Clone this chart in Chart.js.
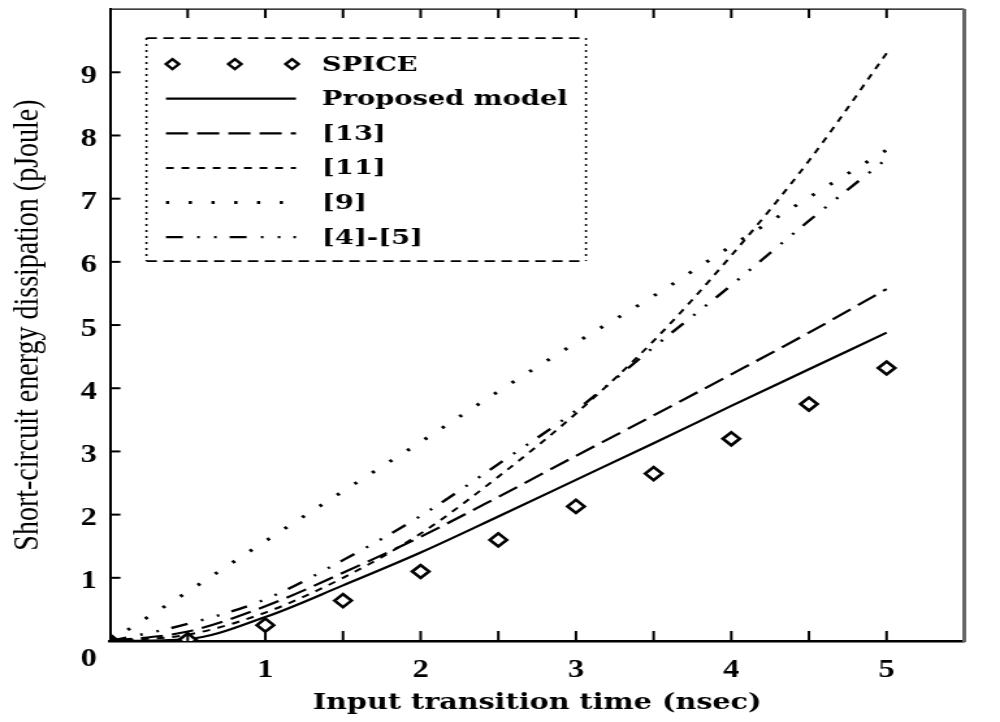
<!DOCTYPE html>
<html>
<head>
<meta charset="utf-8">
<script src="https://cdn.jsdelivr.net/npm/chart.js@4.4.1/dist/chart.umd.min.js"></script>
<style>
  html, body { margin: 0; padding: 0; background: #fff; overflow: hidden; }
  /* the figure is drawn on a narrow canvas and widened, like the printed plot */
  #wrap { position: absolute; left: 0; top: 0; width: 769px; height: 722px; transform: scaleX(1.3004); transform-origin: 0 0; }
</style>
</head>
<body>
<div id="wrap"><canvas id="scChart"></canvas></div>
<script>
// input transition time (nsec)
const tIn = [0, 0.5, 1, 1.5, 2, 2.5, 3, 3.5, 4, 4.5, 5];

// short-circuit energy (pJoule)
const spice    = [0, 0.02, 0.25, 0.64, 1.1, 1.6, 2.13, 2.65, 3.2, 3.75, 4.32];
const proposed = [0, 0.03, 0.38, 0.88, 1.4, 1.97, 2.55, 3.13, 3.72, 4.3, 4.88];
const ref13    = [0, 0.15, 0.55, 1.08, 1.65, 2.28, 2.93, 3.57, 4.22, 4.88, 5.57];
const ref11    = [0, 0.1, 0.45, 1.0, 1.7, 2.6, 3.6, 4.75, 6.1, 7.6, 9.3];
const ref9     = [0, 0.78, 1.58, 2.37, 3.15, 3.95, 4.72, 5.46, 6.25, 7.02, 7.77];
const ref4_5   = [0, 0.27, 0.66, 1.28, 1.98, 2.8, 3.65, 4.65, 5.63, 6.65, 7.63];

const xTicks = { min: 0, max: 5.5, step: 0.5 };
const yTicks = { min: 0, max: 10, step: 1 };

const pts = arr => arr.map((v, i) => ({ x: tIn[i], y: v }));

const lineSet = (label, arr, dash, width) => ({
    label: label,
    data: pts(arr),
    borderColor: '#000',
    borderWidth: width,
    borderDash: dash,
    pointRadius: 0,
    cubicInterpolationMode: 'monotone',
    fill: false
});

// fixed axis boxes, no extra room for overhanging labels
const fixBox = (w, h) => (scale) => {
    if (w) scale.width = w;
    if (h) scale.height = h;
    scale.paddingTop = 0;
    scale.paddingBottom = 0;
    scale.paddingLeft = 0;
    scale.paddingRight = 0;
};

// dashed legend box in the upper left corner
const legendBox = {
    id: 'legendBox',
    afterDraw(chart) {
        const { ctx, chartArea } = chart;
        const x0 = chartArea.left + 28, y0 = chartArea.top + 29;
        const w = 338, h = 223;
        ctx.save();
        ctx.strokeStyle = '#000';
        ctx.lineWidth = 1.6;
        ctx.setLineDash([8, 5]);
        ctx.beginPath();
        ctx.moveTo(x0, y0); ctx.lineTo(x0 + w, y0);
        ctx.moveTo(x0, y0 + h); ctx.lineTo(x0 + w, y0 + h);
        ctx.stroke();
        ctx.setLineDash([2, 4]);
        ctx.beginPath();
        ctx.moveTo(x0, y0); ctx.lineTo(x0, y0 + h);
        ctx.moveTo(x0 + w, y0); ctx.lineTo(x0 + w, y0 + h);
        ctx.stroke();

        ctx.font = 'bold 21px "DejaVu Serif"';
        ctx.textBaseline = 'middle';
        ctx.fillStyle = '#000';
        chart.data.datasets.forEach((ds, i) => {
            const y = y0 + 26 + i * 34.6;
            if (ds.showLine === false) {
                ctx.setLineDash([]);
                ctx.lineWidth = 2.4;
                [20, 68, 112].forEach(dx => {
                    const cx = x0 + dx, r = 5;
                    ctx.beginPath();
                    ctx.moveTo(cx, y - r); ctx.lineTo(cx + r, y);
                    ctx.lineTo(cx, y + r); ctx.lineTo(cx - r, y);
                    ctx.closePath();
                    ctx.fillStyle = '#fff'; ctx.fill();
                    ctx.stroke();
                });
                ctx.fillStyle = '#000';
            } else {
                ctx.setLineDash(ds.borderDash || []);
                ctx.lineWidth = ds.borderWidth;
                ctx.beginPath();
                ctx.moveTo(x0 + 15, y);
                ctx.lineTo(x0 + 115, y);
                ctx.stroke();
            }
            ctx.fillText(ds.label, x0 + 135, y + 1);
        });
        ctx.restore();
    }
};

// top and right frame plus inward tick marks
const frame = {
    id: 'frame',
    afterDraw(chart) {
        const { ctx, chartArea: a } = chart;
        const xs = chart.scales.x, ys = chart.scales.y;
        ctx.save();
        ctx.setLineDash([]);
        ctx.strokeStyle = '#000';
        ctx.lineWidth = 1.2;
        ctx.beginPath();
        ctx.moveTo(a.left, a.top); ctx.lineTo(a.right, a.top);
        ctx.stroke();
        ctx.strokeStyle = '#666';
        ctx.lineWidth = 3;
        ctx.beginPath();
        ctx.moveTo(a.right, a.top); ctx.lineTo(a.right, a.bottom + 1);
        ctx.stroke();

        ctx.strokeStyle = '#000';
        ctx.lineWidth = 2;
        for (let v = xTicks.min + xTicks.step; v < xTicks.max; v += xTicks.step) {
            const px = xs.getPixelForValue(v);
            ctx.beginPath();
            ctx.moveTo(px, a.bottom); ctx.lineTo(px, a.bottom - 10);
            ctx.moveTo(px, a.top); ctx.lineTo(px, a.top + 9);
            ctx.stroke();
        }
        for (let v = yTicks.min + yTicks.step; v < yTicks.max; v += yTicks.step) {
            const py = ys.getPixelForValue(v);
            ctx.beginPath();
            ctx.moveTo(a.left, py); ctx.lineTo(a.left + 8, py);
            ctx.stroke();
        }
        ctx.restore();
    }
};

const tickFont = { family: '"Liberation Serif"', size: 25, weight: 'bold' };

new Chart(document.getElementById('scChart'), {
    type: 'line',
    data: {
        datasets: [
            {
                label: 'SPICE',
                data: pts(spice),
                showLine: false,
                pointStyle: 'rectRot',
                pointRadius: 6.5,
                pointBorderWidth: 2.6,
                pointBorderColor: '#000',
                pointBackgroundColor: spice.map((v, i) => tIn[i] === 0 ? '#000' : '#fff')
            },
            lineSet('Proposed model', proposed, [], 2.2),
            lineSet('[13]', ref13, [17, 7], 2.2),
            lineSet('[11]', ref11, [6, 6], 2),
            lineSet('[9]', ref9, [2.5, 15], 3),
            lineSet('[4]-[5]', ref4_5, [13, 11, 2, 11, 2, 10], 2.4)
        ]
    },
    options: {
        responsive: true,
        maintainAspectRatio: false,
        animation: false,
        events: [],
        layout: { padding: { top: 6, right: 27.5, bottom: 0, left: 0 } },
        plugins: {
            legend: { display: false },
            tooltip: { enabled: false }
        },
        scales: {
            x: {
                type: 'linear',
                min: xTicks.min,
                max: xTicks.max,
                afterFit: fixBox(0, 81),
                grid: { display: false, drawTicks: false },
                border: { display: true, color: '#000', width: 2.5 },
                ticks: {
                    stepSize: xTicks.step,
                    autoSkip: false,
                    maxRotation: 0,
                    padding: 15,
                    color: '#000',
                    font: tickFont,
                    callback: (v) => (Number.isInteger(v) && v > 0) ? String(v) : ''
                },
                title: {
                    display: true,
                    text: 'Input transition time (nsec)',
                    color: '#000',
                    font: { family: '"DejaVu Serif"', size: 22, weight: 'bold' },
                    padding: { top: 0, bottom: 6 }
                }
            },
            y: {
                type: 'linear',
                min: yTicks.min,
                max: yTicks.max,
                afterFit: fixBox(84.6, 0),
                grid: { display: false, drawTicks: false },
                border: { display: true, color: '#000', width: 2 },
                ticks: {
                    stepSize: yTicks.step,
                    autoSkip: false,
                    padding: 10,
                    labelOffset: 4,
                    color: '#000',
                    font: tickFont,
                    // the shared origin label sits below the corner
                    callback: (v) => v === 0 ? ['', '0'] : (v >= yTicks.max ? '' : String(v))
                },
                title: {
                    display: true,
                    text: 'Short-circuit energy dissipation (pJoule)',
                    color: '#000',
                    font: { family: '"Liberation Serif"', size: 28, weight: 'normal' },
                    padding: { top: 5, bottom: 0 }
                }
            }
        }
    },
    plugins: [frame, legendBox]
});
</script>
</body>
</html>
